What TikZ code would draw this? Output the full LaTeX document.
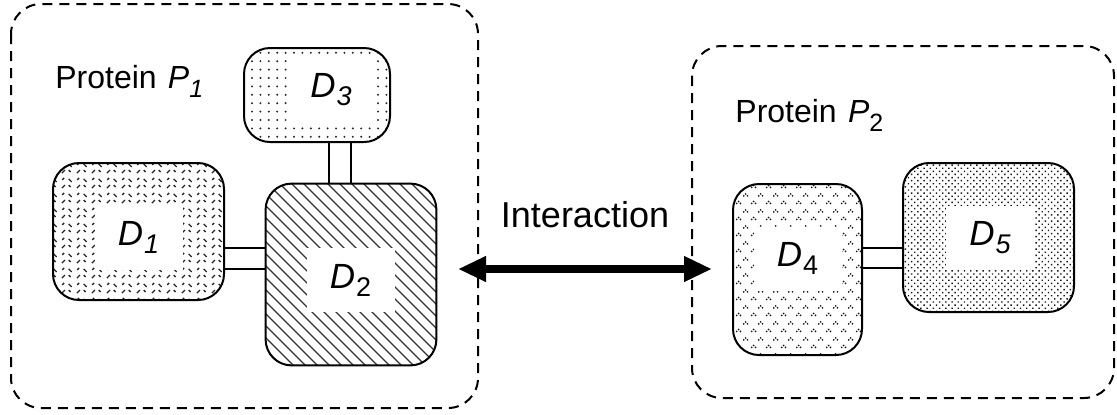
\documentclass[tikz,border=0pt]{standalone}
\usepackage{fontspec}
\setmainfont{Liberation Sans}
\usetikzlibrary{patterns,patterns.meta,arrows.meta}

% staggered short diagonal dashes, leaning both ways
\pgfdeclarepattern{
  name=DashCross,
  type=uncolored,
  bottom left={\pgfpoint{0pt}{0pt}},
  top right={\pgfpoint{7.5pt}{7.5pt}},
  tile size={\pgfpoint{7.5pt}{7.5pt}},
  code={
    \pgfsetlinewidth{0.7pt}
    \pgfpathmoveto{\pgfpoint{1.0pt}{1.0pt}}\pgfpathlineto{\pgfpoint{2.6pt}{2.6pt}}
    \pgfpathmoveto{\pgfpoint{4.6pt}{5.9pt}}\pgfpathlineto{\pgfpoint{6.2pt}{4.3pt}}
    \pgfpathmoveto{\pgfpoint{4.6pt}{2.6pt}}\pgfpathlineto{\pgfpoint{5.6pt}{1.6pt}}
    \pgfpathmoveto{\pgfpoint{1.2pt}{5.4pt}}\pgfpathlineto{\pgfpoint{2.2pt}{6.4pt}}
    \pgfusepath{stroke}
  }
}

% staggered little three-dot carets
\pgfdeclarepattern{
  name=Carets,
  type=uncolored,
  bottom left={\pgfpoint{0pt}{0pt}},
  top right={\pgfpoint{7.5pt}{8pt}},
  tile size={\pgfpoint{7.5pt}{8pt}},
  code={
    \pgfpathcircle{\pgfpoint{1.9pt}{2.9pt}}{0.5pt}
    \pgfpathcircle{\pgfpoint{0.9pt}{1.9pt}}{0.5pt}
    \pgfpathcircle{\pgfpoint{2.9pt}{1.9pt}}{0.5pt}
    \pgfpathcircle{\pgfpoint{5.65pt}{6.9pt}}{0.5pt}
    \pgfpathcircle{\pgfpoint{4.65pt}{5.9pt}}{0.5pt}
    \pgfpathcircle{\pgfpoint{6.65pt}{5.9pt}}{0.5pt}
    \pgfusepath{fill}
  }
}

\newcommand\lowsub[2]{\raisebox{-#1}{\fontsize{13.5pt}{15pt}\selectfont #2}}
\newcommand\domlabel[1]{\fontsize{17.5pt}{20pt}\selectfont\textit{D}\kern0.5pt\lowsub{4pt}{#1}}
\newcommand\protlabel[1]{\fontsize{16pt}{19pt}\selectfont Protein\hspace{0.35em}\textit{P}\raisebox{-4.5pt}{\fontsize{12.5pt}{15pt}\selectfont #1}}

\tikzset{
  groupbox/.style={draw, line width=1pt, dash pattern=on 5pt off 3.5pt, rounded corners=15pt},
  dombox/.style={draw, line width=1pt, rounded corners=13pt, inner sep=0pt},
  labelbox/.style={fill=white, inner sep=0pt, minimum width=44pt, minimum height=32pt},
  hatch/.style={line width=0.7pt, black!80},
  link/.style={line width=0.9pt},
  interact/.style={line width=4pt, {Triangle[length=14pt,width=12pt]}-{Triangle[length=14pt,width=12pt]}},
}

\begin{document}
\begin{tikzpicture}[x=0.5pt,y=-0.5pt]
\useasboundingbox (0,0) rectangle (1117,414);

% the two proteins
\draw[groupbox] (11,4) rectangle (478,408);
\draw[groupbox] (692,46) rectangle (1114,398);
\node[anchor=base west, inner sep=0pt] (p1) at (55,88) {\protlabel{\textit{1}}};
\node[anchor=base west, inner sep=0pt] (p2) at (735,122) {\protlabel{2}};

% domains of P1
\node[dombox, pattern={DashCross}, pattern color=black!85,
      minimum width=85.5pt, minimum height=68.5pt] (d1) at (138.5,231.5) {};
\node[inner sep=0pt, minimum width=85pt, minimum height=90.5pt] (d2) at (351,274.5) {};
\begin{scope}
  \clip[rounded corners=13pt] (d2.south west) rectangle (d2.north east);
  \foreach \c in {-108,-96,...,264}
    \draw[hatch] (\c+150,150) -- (\c+400,400);
\end{scope}
\draw[line width=1pt, rounded corners=13pt] (d2.south west) rectangle (d2.north east);
\node[dombox, pattern={Dots[distance=4.2pt,radius=0.55pt]}, pattern color=black!85,
      minimum width=73pt, minimum height=47pt] (d3) at (317,95) {};

% domains of P2
\node[dombox, pattern={Carets}, pattern color=black!90,
      minimum width=64.5pt, minimum height=85.5pt] (d4) at (797.5,269.5) {};
\node[dombox, pattern={Dots[distance=2.2pt,angle=45,radius=0.5pt]}, pattern color=black!90,
      minimum width=85.5pt, minimum height=74.5pt] (d5) at (988.5,237.5) {};

% domain names on clear patches
\node[labelbox] (l1) at (138.5,237.5) {\domlabel{\textit{1}}};
\node[labelbox] (l2) at (350.5,280) {\domlabel{2}};
\node[labelbox] (l3) at (331,90) {\domlabel{\textit{3}}};
\node[labelbox] (l4) at (797.5,258.5) {\domlabel{4}};
\node[labelbox] (l5) at (990,237.5) {\domlabel{\textit{5}}};

% linkers between domains
\draw[link] (d1.east |- 0,248) -- (d2.west |- 0,248)
            (d1.east |- 0,269) -- (d2.west |- 0,269);
\draw[link] (d3.south -| 329,0) -- (d2.north -| 329,0)
            (d3.south -| 351,0) -- (d2.north -| 351,0);
\draw[link] (d4.east |- 0,248) -- (d5.west |- 0,248)
            (d4.east |- 0,268) -- (d5.west |- 0,268);

% interaction arrow
\node[anchor=base, inner sep=0pt] (itext) at (585,227) {\fontsize{18pt}{21pt}\selectfont Interaction};
\coordinate (ia) at (458,269);
\coordinate (ib) at (712,269);
\draw[interact] (ia) -- (ib);
\end{tikzpicture}
\end{document}
